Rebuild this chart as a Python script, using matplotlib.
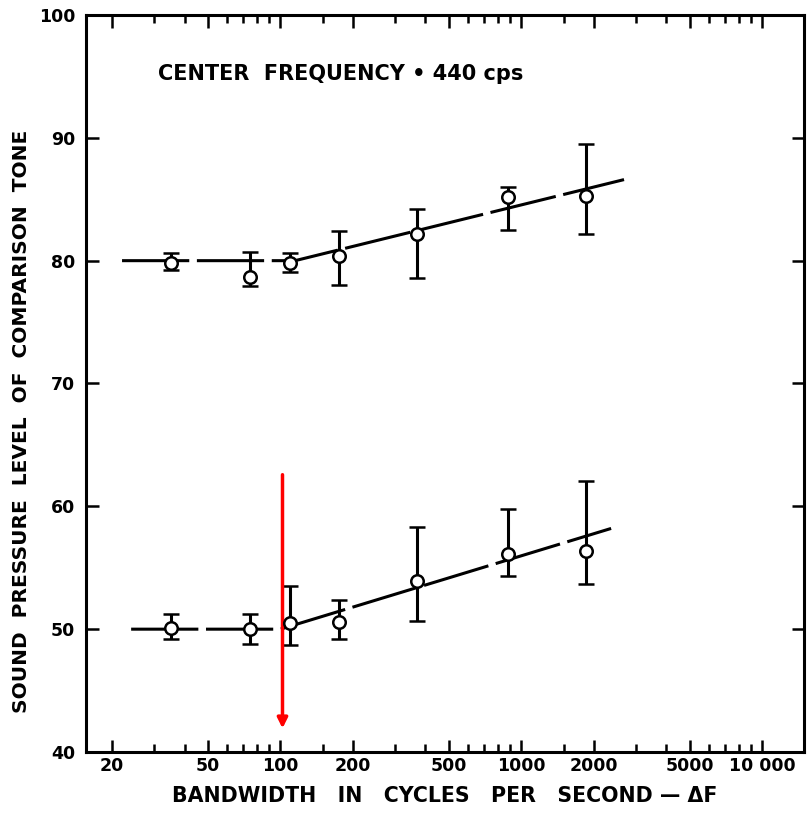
import matplotlib.pyplot as plt
import numpy as np
from matplotlib.ticker import FixedLocator, NullFormatter

# bandwidths (cps) of the measured points
bw = [35, 75, 110, 175, 370, 880, 1850]

# upper curve (comparison level ~80 dB)
hi_y = [79.8, 78.7, 79.8, 80.4, 82.2, 85.2, 85.3]
hi_top = [80.6, 80.7, 80.6, 82.4, 84.2, 86.0, 89.5]
hi_bot = [79.2, 77.9, 79.1, 78.0, 78.6, 82.5, 82.2]

# lower curve (comparison level ~50 dB)
lo_y = [50.1, 50.0, 50.5, 50.6, 53.9, 56.1, 56.4]
lo_top = [51.2, 51.2, 53.5, 52.4, 58.3, 59.8, 62.1]
lo_bot = [49.2, 48.8, 48.7, 49.2, 50.7, 54.3, 53.7]

# fitted lines (flat part then rising)
hi_fit_x = [22, 115, 2670]
hi_fit_y = [80.0, 80.0, 86.6]
lo_fit_x = [24, 100, 2360]
lo_fit_y = [50.0, 50.0, 58.2]

xticks = [20, 50, 100, 200, 500, 1000, 2000, 5000, 10000]
xticklabels = ['20', '50', '100', '200', '500', '1000', '2000', '5000', '10 000']
yticks = [40, 50, 60, 70, 80, 90, 100]

plt.rcParams['font.family'] = ['DejaVu Sans']

fig = plt.figure(figsize=(8.12, 8.15), dpi=100)
ax = fig.add_axes([0.106, 0.0773, 0.884, 0.9043])

ax.set_xscale('log')
ax.set_xlim(15.6, 14900)
ax.set_ylim(40, 100)

for fx, fy in [(hi_fit_x, hi_fit_y), (lo_fit_x, lo_fit_y)]:
    ax.plot(fx, fy, color='black', lw=2.2, ls=(0, (22, 2.5)), zorder=2)

for y, top, bot in [(hi_y, hi_top, hi_bot), (lo_y, lo_top, lo_bot)]:
    y = np.array(y)
    err = [y - np.array(bot), np.array(top) - y]
    ax.errorbar(bw, y, yerr=err, fmt='o', color='black', ms=9, mfc='white',
                mec='black', mew=1.8, elinewidth=2.2, capsize=6, capthick=2.2,
                zorder=3)

ax.text(31, 95.2, 'CENTER  FREQUENCY \u2022 440 cps', fontsize=15,
        fontweight='bold', ha='left', va='center')

ax.annotate('', xy=(102, 41.7), xytext=(102, 62.8),
            arrowprops=dict(arrowstyle='-|>', color='red', lw=2.5,
                            mutation_scale=15))

ax.xaxis.set_major_locator(FixedLocator(xticks))
ax.set_xticklabels(xticklabels)
minor = [v * m for v in [10, 100, 1000] for m in range(2, 10)] + [150, 1500]
ax.xaxis.set_minor_locator(FixedLocator(minor))
ax.xaxis.set_minor_formatter(NullFormatter())
ax.set_yticks(yticks)

ax.tick_params(which='both', direction='in', top=True, right=True,
               labelsize=12.5, width=1.8)
ax.tick_params(which='major', length=9)
ax.tick_params(which='minor', length=6)
ax.tick_params(axis='y', pad=8)
for lab in ax.get_xticklabels() + ax.get_yticklabels():
    lab.set_fontweight('bold')

for s in ax.spines.values():
    s.set_linewidth(2.2)

ax.set_xlabel('BANDWIDTH   IN   CYCLES   PER   SECOND \u2014 \u0394F', fontsize=14.8,
              fontweight='bold', labelpad=8)
ax.set_ylabel('SOUND  PRESSURE  LEVEL  OF  COMPARISON  TONE', fontsize=14.5,
              fontweight='bold')
ax.yaxis.set_label_coords(-0.077, 0.448)

fig.savefig('out.png', dpi=100)
